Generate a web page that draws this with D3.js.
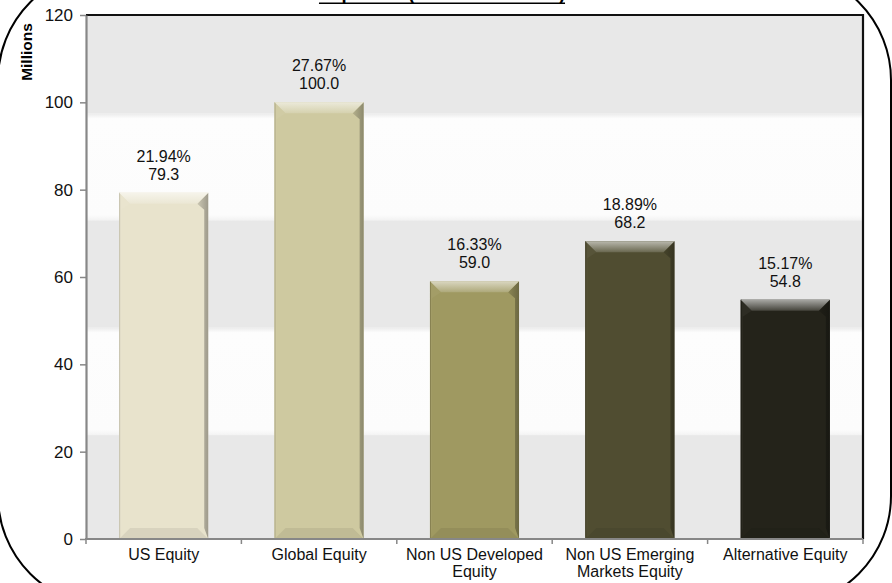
<!DOCTYPE html>
<html>
<head>
<meta charset="utf-8">
<script src="https://cdn.jsdelivr.net/npm/d3@7"></script>
<style>
  html, body { margin: 0; padding: 0; background: #ffffff; }
  svg { display: block; font-family: Arial, "Liberation Sans", sans-serif; }
</style>
</head>
<body>
<svg id="chart" width="892" height="583"></svg>
<script>
// Sub asset class exposure, in millions
const categories = ["US Equity", "Global Equity", "Non US Developed Equity", "Non US Emerging Markets Equity", "Alternative Equity"];
const values = [79.3, 100.0, 59.0, 68.2, 54.8];
const shares = ["21.94%", "27.67%", "16.33%", "18.89%", "15.17%"];
const barColors = ["#e8e3cc", "#cec9a0", "#9f9961", "#504d31", "#24231a"];
const yTicks = [0, 20, 40, 60, 80, 100, 120];
const bandEdges = [0, 23.8, 48.5, 73, 97.5, 120];

const svg = d3.select("#chart");
const plot = { left: 86, right: 863, top: 15, bottom: 539 };

const y = d3.scaleLinear().domain([0, 120]).range([plot.bottom, plot.top]);
const x = d3.scaleBand().domain(categories).range([plot.left, plot.right])
  .paddingInner(0.427).paddingOuter(0.2135);

const defs = svg.append("defs");

// soft-edged light bands
const wg = defs.append("linearGradient").attr("id", "whiteBand")
  .attr("x1", 0).attr("y1", 0).attr("x2", 0).attr("y2", 1);
wg.append("stop").attr("offset", "0%").attr("stop-color", "#eaeaea");
wg.append("stop").attr("offset", "5%").attr("stop-color", "#fdfdfd");
wg.append("stop").attr("offset", "95%").attr("stop-color", "#fcfcfc");
wg.append("stop").attr("offset", "100%").attr("stop-color", "#f3f3f3");

// outer rounded frame
svg.append("rect")
  .attr("x", -2).attr("y", -30).attr("width", 893).attr("height", 636)
  .attr("rx", 110).attr("ry", 110)
  .attr("fill", "#ffffff").attr("stroke", "#000000").attr("stroke-width", 2);

// title with a drawn underline
const title = svg.append("text")
  .attr("x", 442).attr("y", -0.5)
  .attr("text-anchor", "middle")
  .attr("font-size", 18.5).attr("font-weight", "bold")
  .attr("fill", "#000")
  .text("Exposure (Sub Asset Class)");
const tw = title.node().getComputedTextLength();
svg.append("line")
  .attr("x1", 442 - tw / 2).attr("x2", 442 + tw / 2)
  .attr("y1", 3.3).attr("y2", 3.3)
  .attr("stroke", "#000").attr("stroke-width", 1.4);

// plot background bands
const bands = d3.pairs(bandEdges);
svg.append("g").selectAll("rect").data(bands).join("rect")
  .attr("x", plot.left).attr("width", plot.right - plot.left)
  .attr("y", d => y(d[1])).attr("height", d => y(d[0]) - y(d[1]))
  .attr("fill", (d, i) => i % 2 === 0 ? "#e8e8e8" : "url(#whiteBand)");

// top and right border of the plot area
svg.append("path")
  .attr("d", `M${plot.left},${plot.top}H${plot.right}V${plot.bottom}`)
  .attr("fill", "none").attr("stroke", "#111").attr("stroke-width", 2.2);

// bars with bevelled edges
const d = 11, s = 4;
const barG = svg.append("g");
categories.forEach((c, i) => {
  const bx = x(c), bw = x.bandwidth();
  const by = y(values[i]), bh = y(0) - y(values[i]);
  const base = d3.color(barColors[i]);
  const mix = (target, t) => d3.interpolateRgb(base, target)(t);
  const g = barG.append("g");

  const gid = "topGrad" + i;
  const tg = defs.append("linearGradient").attr("id", gid)
    .attr("x1", 0).attr("y1", 0).attr("x2", 0).attr("y2", 1);
  tg.append("stop").attr("offset", "0%").attr("stop-color", mix("#ffffff", 0.6));
  tg.append("stop").attr("offset", "100%").attr("stop-color", mix("#ffffff", 0.15));

  const rid = "rightGrad" + i;
  const rg = defs.append("linearGradient").attr("id", rid)
    .attr("x1", 0).attr("y1", 0).attr("x2", 1).attr("y2", 0);
  rg.append("stop").attr("offset", "0%").attr("stop-color", mix("#000", 0.12));
  rg.append("stop").attr("offset", "100%").attr("stop-color", mix("#000", 0.32));

  g.append("rect").attr("x", bx).attr("y", by).attr("width", bw).attr("height", bh)
    .attr("fill", base.formatHex());
  // left face
  g.append("path")
    .attr("d", `M${bx},${by}L${bx + d},${by + d}L${bx + s - 2},${by + d + 6}V${by + bh - d}L${bx},${by + bh}Z`)
    .attr("fill", mix("#ffffff", 0.04));
  g.append("line")
    .attr("x1", bx + 0.5).attr("x2", bx + 0.5).attr("y1", by).attr("y2", by + bh)
    .attr("stroke", mix("#000", 0.15)).attr("stroke-width", 1);
  // right face
  g.append("path")
    .attr("d", `M${bx + bw},${by}L${bx + bw - d},${by + d}L${bx + bw - s},${by + d + 6}V${by + bh - d}L${bx + bw},${by + bh}Z`)
    .attr("fill", `url(#${rid})`);
  // bottom face
  g.append("path")
    .attr("d", `M${bx},${by + bh}L${bx + d},${by + bh - d}H${bx + bw - d}L${bx + bw},${by + bh}Z`)
    .attr("fill", mix("#000", 0.07));
  // top face
  g.append("path")
    .attr("d", `M${bx},${by}H${bx + bw}L${bx + bw - d},${by + d}H${bx + d}Z`)
    .attr("fill", `url(#${gid})`);

  // value labels
  const lab = svg.append("text")
    .attr("text-anchor", "middle").attr("font-size", 16).attr("fill", "#111");
  lab.append("tspan").attr("x", bx + bw / 2).attr("y", by - 31).text(shares[i]);
  lab.append("tspan").attr("x", bx + bw / 2).attr("y", by - 13).text(values[i].toFixed(1));
});

// left axis
const yAxis = svg.append("g")
  .attr("transform", `translate(${plot.left},0)`)
  .call(d3.axisLeft(y).tickValues(yTicks).tickSize(6).tickPadding(7).tickSizeOuter(0));
yAxis.select(".domain").attr("stroke", "#878787").attr("stroke-width", 2.2);
yAxis.selectAll(".tick line").attr("stroke", "#878787").attr("stroke-width", 1.5);
yAxis.selectAll(".tick text").attr("font-size", 17).attr("fill", "#111")
  .attr("font-family", "Arial, 'Liberation Sans', sans-serif");

// bottom axis: baseline, boundary ticks, wrapped category labels
svg.append("line")
  .attr("x1", plot.left - 1).attr("x2", plot.right)
  .attr("y1", y(0)).attr("y2", y(0))
  .attr("stroke", "#878787").attr("stroke-width", 2.2);
const bounds = categories.map(c => x(c) - x.step() * x.paddingInner() / 2).concat([plot.right]);
svg.append("g").selectAll("line").data(bounds).join("line")
  .attr("x1", v => v).attr("x2", v => v)
  .attr("y1", y(0)).attr("y2", y(0) + 5)
  .attr("stroke", "#878787").attr("stroke-width", 1.5);

const maxW = x.step() - 6;
categories.forEach(c => {
  const t = svg.append("text")
    .attr("text-anchor", "middle").attr("font-size", 16).attr("fill", "#111");
  const words = c.split(" ");
  let line = [];
  const lines = [];
  const probe = t.append("tspan");
  words.forEach(w => {
    probe.text(line.concat([w]).join(" "));
    if (probe.node().getComputedTextLength() > maxW && line.length) {
      lines.push(line.join(" "));
      line = [w];
    } else {
      line.push(w);
    }
  });
  lines.push(line.join(" "));
  probe.remove();
  lines.forEach((l, k) => {
    t.append("tspan").attr("x", x(c) + x.bandwidth() / 2)
      .attr("y", y(0) + 21 + k * 16.5).text(l);
  });
});

// axis title
svg.append("text")
  .attr("transform", "translate(32,52) rotate(-90)")
  .attr("text-anchor", "middle")
  .attr("font-size", 15.5).attr("font-weight", "bold").attr("fill", "#000")
  .text("Millions");
</script>
</body>
</html>
